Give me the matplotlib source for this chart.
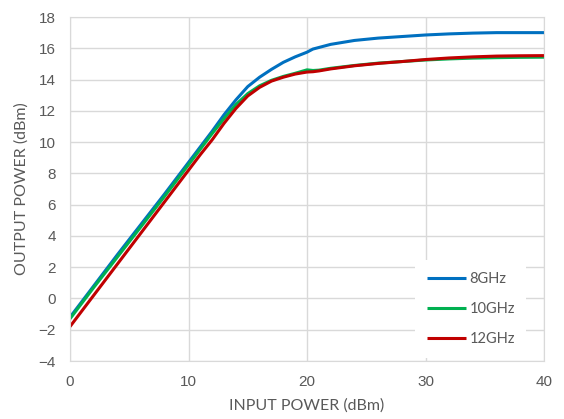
import matplotlib
matplotlib.use("Agg")
import matplotlib.pyplot as plt

pin = [0, 2, 4, 6, 8, 10, 11, 12, 13, 14, 15, 16, 17, 18, 19, 20, 20.5, 21, 22, 24, 26, 28, 30, 32, 34, 36, 38, 40]
out_8 = [-1.2, 0.8, 2.8, 4.75, 6.7, 8.7, 9.7, 10.7, 11.75, 12.7, 13.55, 14.15, 14.65, 15.1, 15.45, 15.75,
         15.95, 16.05, 16.25, 16.5, 16.65, 16.75, 16.85, 16.92, 16.97, 17.0, 17.0, 17.0]
out_10 = [-1.3, 0.7, 2.65, 4.6, 6.55, 8.55, 9.55, 10.55, 11.5, 12.4, 13.1, 13.6, 13.95, 14.2, 14.4, 14.62,
          14.58, 14.6, 14.72, 14.9, 15.05, 15.15, 15.25, 15.32, 15.37, 15.4, 15.42, 15.43]
out_12 = [-1.8, 0.2, 2.2, 4.2, 6.2, 8.2, 9.2, 10.15, 11.2, 12.15, 12.95, 13.5, 13.9, 14.15, 14.35, 14.48,
          14.5, 14.55, 14.68, 14.88, 15.03, 15.15, 15.28, 15.38, 15.45, 15.5, 15.52, 15.53]
labels = ["8GHz", "10GHz", "12GHz"]
colors = ["#0070C0", "#00B050", "#C00000"]

fig = plt.figure(figsize=(5.64, 4.19), dpi=100)
ax = fig.add_axes([70/564, 1 - 361/419, 474/564, 344/419])

for ys, lab, c in zip([out_8, out_10, out_12], labels, colors):
    ax.plot(pin, ys, color=c, lw=2.2, label=lab, solid_capstyle="butt")

ax.set_xlim(0, 40)
ax.set_ylim(-4, 18)
ax.set_xticks(range(0, 41, 10))
ax.set_yticks(range(-4, 19, 2))
ax.grid(color="#d9d9d9", lw=1)
ax.set_axisbelow(True)
for s in ax.spines.values():
    s.set_color("#d9d9d9")
ax.tick_params(length=0, labelsize=11, labelcolor="#595959", pad=10)
for t in ax.get_xticklabels() + ax.get_yticklabels():
    t.set_fontfamily("Liberation Sans")

ax.set_xlabel("INPUT POWER (dBm)", fontsize=11.5, color="#595959", family="Lato", labelpad=7)
ax.set_ylabel("OUTPUT POWER (dBm)", fontsize=11.5, color="#595959", family="Lato", labelpad=7)

leg = ax.legend(loc="lower right", bbox_to_anchor=(0.963, 0.01), frameon=True, fancybox=False,
                edgecolor="none", facecolor="white", framealpha=1,
                prop={"family": "Lato", "size": 10.5}, labelcolor="#595959",
                handlelength=2.7, handletextpad=0.2, labelspacing=1.1, borderpad=0.8, borderaxespad=0)

fig.savefig("out.png", dpi=100)
